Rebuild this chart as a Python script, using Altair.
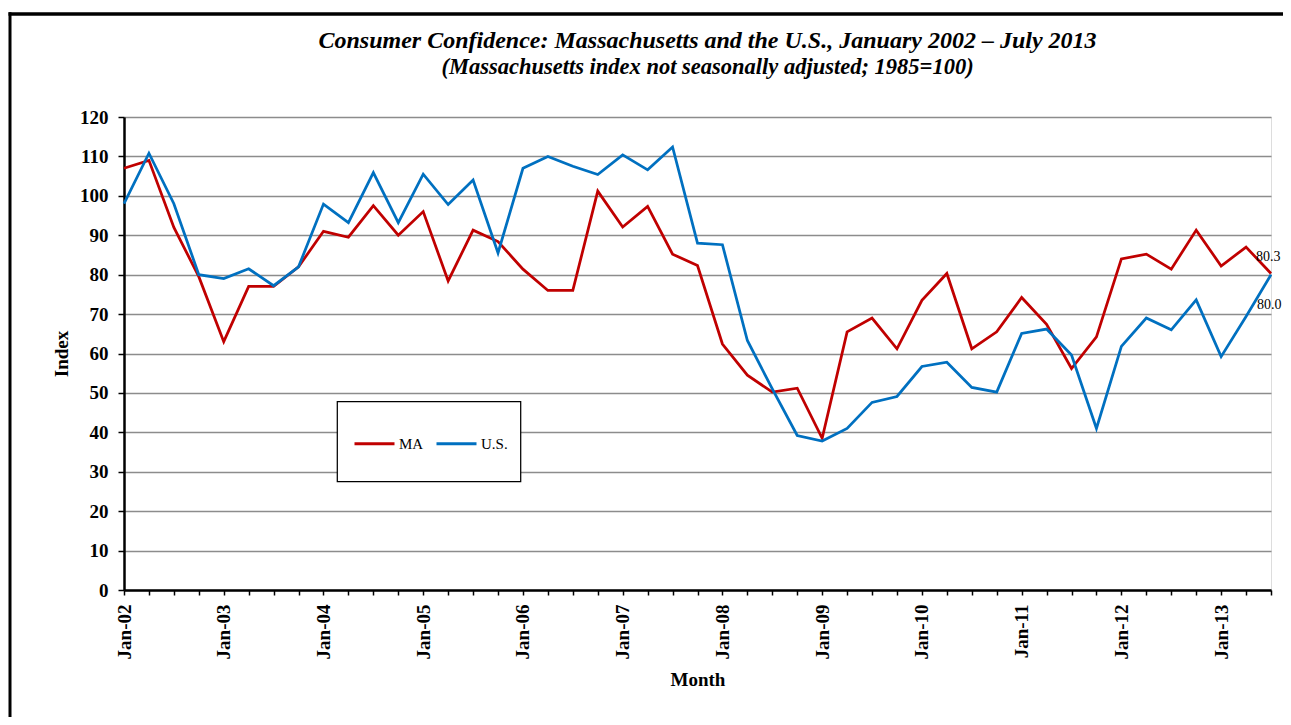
import altair as alt
import pandas as pd

months = [f"{m}-{y:02d}" for y in range(2, 14) for m in ["Jan", "Apr", "Jul", "Oct"]][:47]

ma_values = [107, 109, 92, 79.5, 63, 77, 77, 82, 91, 89.5, 97.5, 90,
             96, 78.4, 91.3, 88.4, 81.4, 76, 76, 101.2, 92.1, 97.3, 85.2, 82.3,
             62.4, 54.5, 50.2, 51.2, 38.5, 65.5, 69, 61.2, 73.5, 80.3, 61.2, 65.5,
             74.2, 67.4, 56.2, 64.2, 84, 85.2, 81.4, 91.3, 82.2, 87, 80.3]
us_values = [98, 110.8, 98, 80, 79, 81.5, 77.2, 82, 97.9, 93.2, 105.9, 93.2,
             105.5, 97.8, 104, 85.5, 107, 110, 107.5, 105.4, 110.4, 106.6, 112.4, 88,
             87.6, 63.3, 51, 39.2, 37.8, 41, 47.6, 49.1, 56.7, 57.8, 51.4, 50.2,
             65.1, 66.2, 59.6, 41, 61.8, 69, 66, 73.6, 59.2, 69.4, 80]
series_names = ["MA", "U.S."]
series_colors = ["#C00000", "#0070C0"]
y_ticks = list(range(0, 121, 10))

rows = []
for name, vals in zip(series_names, [ma_values, us_values]):
    for m, v in zip(months, vals):
        rows.append({"month": m, "series": name, "value": v})
df = pd.DataFrame(rows)

lab_ma = pd.DataFrame([{"month": months[-1], "value": ma_values[-1]}])
lab_us = pd.DataFrame([{"month": months[-1], "value": us_values[-1]}])

FONT = "Liberation Serif"
W, H = 1147, 473

xenc = alt.X("month:O", sort=months,
             scale=alt.Scale(type="point", padding=0),
             axis=alt.Axis(title="Month", labelAngle=-90,
                           labelExpr="slice(datum.label,0,3)=='Jan' ? datum.label : ''",
                           labelOverlap=False, ticks=True, tickSize=5, tickColor="black",
                           tickWidth=1.5, domainColor="black", domainWidth=2.5,
                           grid=False, labelPadding=9, labelFont=FONT, labelFontSize=19,
                           labelFontWeight="bold", labelColor="black",
                           titleFont=FONT, titleFontSize=19, titleFontWeight="bold",
                           titleColor="black", titlePadding=12))
yenc = alt.Y("value:Q",
             scale=alt.Scale(domain=[0, 120], nice=False),
             axis=alt.Axis(title="Index", values=y_ticks, labelOverlap=False,
                           grid=True, gridColor="#8c8c8c", gridWidth=1.5,
                           tickSize=6, tickColor="black", tickWidth=1.5,
                           domainColor="black", domainWidth=2.5, labelPadding=10,
                           labelFont=FONT, labelFontSize=19, labelFontWeight="bold",
                           labelColor="black", titleFont=FONT, titleFontSize=19,
                           titleFontWeight="bold", titleColor="black", titlePadding=8))

one = pd.DataFrame([{"a": 1}])

frame_top = alt.Chart(one).mark_rule(color="black", strokeWidth=3.5).encode(
    x=alt.value(-115.5), x2=alt.value(3000), y=alt.value(-103))
frame_left = alt.Chart(one).mark_rule(color="black", strokeWidth=3).encode(
    x=alt.value(-114), y=alt.value(-104.75), y2=alt.value(1000))
legend_box = alt.Chart(one).mark_rect(fill="white", stroke="black", strokeWidth=1.25).encode(
    x=alt.value(213.3), x2=alt.value(396.7), y=alt.value(284.7), y2=alt.value(364.7))

lines = alt.Chart(df).mark_line(strokeWidth=2.75).encode(
    x=xenc, y=yenc,
    color=alt.Color("series:N", sort=series_names,
                    scale=alt.Scale(domain=series_names, range=series_colors),
                    legend=alt.Legend(title=None, orient="none", legendX=229, legendY=305,
                                      direction="horizontal", symbolType="stroke",
                                      symbolSize=1600, symbolStrokeWidth=3,
                                      labelFont=FONT, labelFontSize=15, labelColor="black",
                                      labelOffset=3, columnPadding=6, padding=0)),
    order=alt.Order("series:N"))

text_ma = alt.Chart(lab_ma).mark_text(font=FONT, fontSize=14, align="left",
                                      baseline="alphabetic", dx=-15, dy=-12,
                                      color="black").encode(
    x=xenc, y=yenc, text=alt.Text("value:Q", format=".1f"))
text_us = alt.Chart(lab_us).mark_text(font=FONT, fontSize=14, align="left",
                                      baseline="alphabetic", dx=-14, dy=34,
                                      color="black").encode(
    x=xenc, y=yenc, text=alt.Text("value:Q", format=".1f"))

chart = alt.layer(frame_top, frame_left, legend_box, lines, text_ma, text_us).properties(
    width=W, height=H,
    title=alt.TitleParams(
        text="Consumer Confidence: Massachusetts and the U.S., January 2002 \u2013 July 2013",
        subtitle="(Massachusetts index not seasonally adjusted; 1985=100)",
        font=FONT, fontSize=24, fontStyle="italic", fontWeight="bold", color="black",
        subtitleFont=FONT, subtitleFontSize=22.5, subtitleFontStyle="italic",
        subtitleFontWeight="bold", subtitleColor="black", subtitlePadding=3,
        anchor="middle", dx=10, offset=-68),
    autosize=alt.AutoSizeParams(type="none"),
    padding={"left": 116, "top": 109, "right": 12, "bottom": 127},
).configure_view(stroke="black", strokeWidth=1.5).configure(background="white")

chart.save("out.html", embed_options={"renderer": "svg", "actions": False})
